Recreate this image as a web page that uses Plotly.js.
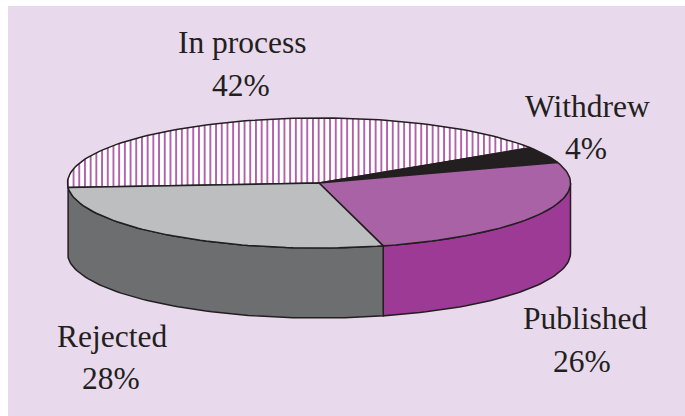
<!DOCTYPE html>
<html>
<head>
<meta charset="utf-8">
<script src="https://cdn.plot.ly/plotly-3.0.1.min.js"></script>
<style>html,body{margin:0;padding:0;background:#fff}#chart{width:685px;height:416px}</style>
</head>
<body>
<div id="chart"></div>
<script>
// Manuscript status shares, clockwise from the left edge of the disc
const categories = ['In process', 'Withdrew', 'Published', 'Rejected'];
const shares = [42, 4, 26, 28];

// Top face and side wall colours per category
const topColors = ['#ffffff', '#231f20', '#a962a6', '#bcbec0'];
const wallColors = ['#ffffff', '#231f20', '#9c3a96', '#6d6e70'];
const ink = '#231f20';

// Disc geometry in axis units
const cx = 319, cy = 183, rx = 251.5, ry = 65, depth = 70;
const startAngle = 184;   // degrees, measured counter-clockwise from +x

const rad = d => d * Math.PI / 180;
const px = a => cx + rx * Math.cos(rad(a));
const py = (a, drop) => cy - ry * Math.sin(rad(a)) + (drop || 0);

function arc(a0, a1, drop) {
  const n = Math.max(2, Math.ceil(Math.abs(a1 - a0) / 1.5));
  const xs = [], ys = [];
  for (let i = 0; i <= n; i++) {
    const a = a0 + (a1 - a0) * i / n;
    xs.push(px(a)); ys.push(py(a, drop));
  }
  return {xs, ys};
}

// Angular extent of each slice, walking clockwise
const total = shares.reduce((s, v) => s + v, 0);
let cursor = startAngle;
const slices = shares.map((v, i) => {
  const a0 = cursor, a1 = cursor - v / total * 360;
  cursor = a1;
  return {i, a0, a1};
});

const traces = [];

// Side walls: only the part of a slice below the horizontal diameter shows
slices.forEach(s => {
  const from = Math.min(s.a0, 0);
  const to = Math.max(s.a1, -180 + (startAngle - 180));
  if (from <= to) return;
  const top = arc(from, to, 0), bottom = arc(to, from, depth);
  traces.push({
    type: 'scatter', mode: 'lines', hoverinfo: 'skip',
    x: top.xs.concat(bottom.xs, [top.xs[0]]),
    y: top.ys.concat(bottom.ys, [top.ys[0]]),
    fill: 'toself', fillcolor: wallColors[s.i],
    line: {color: ink, width: 1.5}
  });
});

// Top face slices
slices.forEach(s => {
  const a = arc(s.a0, s.a1, 0);
  const t = {
    type: 'scatter', mode: 'lines', hoverinfo: 'skip',
    x: [cx].concat(a.xs, [cx]),
    y: [cy].concat(a.ys, [cy]),
    fill: 'toself', fillcolor: topColors[s.i],
    line: {color: ink, width: 1.5}
  };
  if (s.i === 0) {
    t.fillpattern = {shape: '|', size: 5.7, solidity: 0.3, fgcolor: '#a94fa3', bgcolor: '#ffffff', fillmode: 'replace'};
  }
  traces.push(t);
});

// Each label sits in two lines: name, then share
const nameX = [242.5, 587.5, 585.5, 112];
const nameY = [42, 106, 318, 336];
const shareX = [241, 585.5, 582, 111];
const shareY = [85, 148, 361, 378];
const annotations = [];
categories.forEach((c, i) => {
  annotations.push({x: nameX[i], y: nameY[i], text: c});
  annotations.push({x: shareX[i], y: shareY[i], text: shares[i] + '%'});
});
annotations.forEach(a => Object.assign(a, {
  xref: 'x', yref: 'y', showarrow: false, xanchor: 'center', yanchor: 'middle'
}));

const layout = {
  width: 685, height: 416,
  margin: {l: 8, r: 0, t: 6, b: 0},
  paper_bgcolor: '#ffffff',
  plot_bgcolor: '#e8d9ec',
  showlegend: false,
  font: {family: '"Liberation Serif", serif', size: 31.5, color: ink},
  xaxis: {range: [8, 685], visible: false, fixedrange: true},
  yaxis: {range: [416, 6], visible: false, fixedrange: true},
  annotations
};

Plotly.newPlot('chart', traces, layout, {displayModeBar: false, staticPlot: true});
</script>
</body>
</html>
